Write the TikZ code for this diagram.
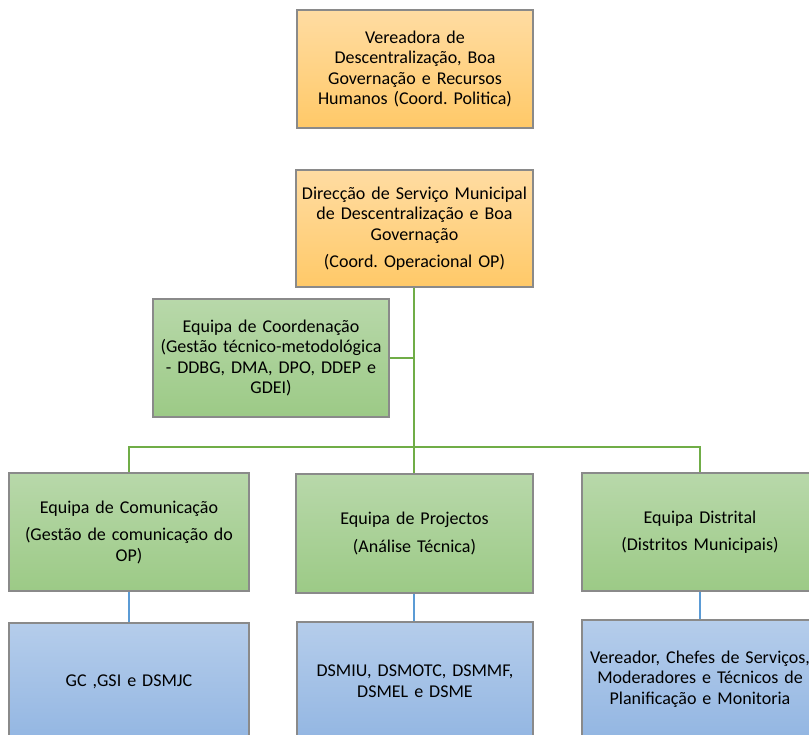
\documentclass[tikz,border=0pt]{standalone}
\usepackage{fontspec}
\setmainfont{Carlito}
\usepackage{xcolor}
\usepackage{tikz}
\usetikzlibrary{positioning,calc}
\definecolor{orangetop}{HTML}{FFDCA2}
\definecolor{orangebot}{HTML}{FFC968}
\definecolor{greentop}{HTML}{B8D8AA}
\definecolor{greenbot}{HTML}{9CCA86}
\definecolor{bluetop}{HTML}{B5CDEB}
\definecolor{bluebot}{HTML}{93B6E2}
\definecolor{linegreen}{HTML}{70AD47}
\definecolor{lineblue}{HTML}{5B9BD5}
\definecolor{boxedge}{HTML}{8A8A8A}
\frenchspacing
\hyphenpenalty=10000

\tikzset{
  caixa/.style={draw=boxedge, line width=1.4pt, minimum width=236pt, minimum height=118pt,
    text width=236pt, align=center, inner sep=0pt, font=\fontsize{18}{20.5}\selectfont},
  laranja/.style={caixa, top color=orangetop, bottom color=orangebot},
  verde/.style={caixa, top color=greentop, bottom color=greenbot},
  azul/.style={caixa, top color=bluetop, bottom color=bluebot},
  gline/.style={draw=linegreen, line width=2.6pt},
  bline/.style={draw=lineblue, line width=2.6pt}
}

\begin{document}
\begin{tikzpicture}[x=1pt, y=-1pt]
  % Moldura
  \useasboundingbox (0,0) rectangle (809,735);
  \clip (0,0) rectangle (809,735);

  % Coordenacao politica e operacional
  \node[laranja] (verea) at (415,69)
    {Vereadora de\\ Descentralização, Boa\\ Governação e Recursos\\ Humanos (Coord. Politica)};
  \node[laranja, minimum width=237pt, minimum height=117pt] (direc) at (414.5,228.5)
    {Direcção de Serviço Municipal\\ de Descentralização e Boa\\ Governação\\[7pt]
     (Coord. Operacional OP)};
  \node[verde] (coord) at (271,358)
    {Equipa de Coordenação\\ (Gestão técnico-metodológica\\ - DDBG, DMA, DPO, DDEP e\\ GDEI)};

  % Equipas
  \node[verde, minimum width=240pt] (comun) at (129,532)
    {Equipa de Comunicação\\[7pt] (Gestão de comunicação do\\ OP)};
  \node[verde, minimum width=237pt, minimum height=119pt] (proj) at (414.5,533.5)
    {Equipa de Projectos\\[7pt] (Análise Técnica)};
  \node[verde] (distr) at (700,532)
    {Equipa Distrital\\[7pt] (Distritos Municipais)};

  % Servicos
  \node[azul, minimum width=240pt] (gc) at (129,682) {GC ,GSI e DSMJC};
  \node[azul] (dsm) at (415,681) {DSMIU, DSMOTC, DSMMF,\\ DSMEL e DSME};
  \node[azul] (verd) at (700,679)
    {Vereador, Chefes de Serviços,\\ Moderadores e Técnicos de\\ Planificação e Monitoria};

  % Ligacoes
  \coordinate (bus) at (414,447);
  \draw[gline] (direc.south -| bus) -- (bus);
  \draw[gline] (coord.east) -- (coord.east -| bus);
  \draw[gline] (bus) -| (comun.north);
  \draw[gline] (bus) -- (proj.north -| bus);
  \draw[gline] (bus) -| (distr.north);
  \draw[bline] (comun.south) -- (comun.south |- gc.north);
  \draw[bline] (proj.south -| bus) -- (bus |- dsm.north);
  \draw[bline] (distr.south) -- (distr.south |- verd.north);
\end{tikzpicture}
\end{document}
